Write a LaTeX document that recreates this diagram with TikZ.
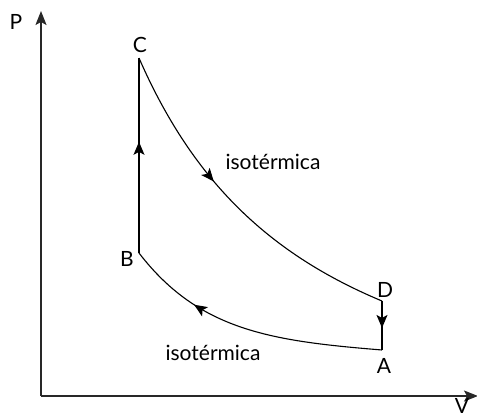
\documentclass[tikz,border=0pt]{standalone}
\usepackage{fontspec}
\setmainfont{Lato}
\usepackage{tikz}
\usetikzlibrary{arrows.meta,decorations.markings,positioning}
\definecolor{axisgrey}{RGB}{40,40,40}
\tikzset{
  axis/.style={line width=1.3pt,draw=axisgrey,-{Stealth[length=14pt,width=11pt,inset=3pt]}},
  stroke/.style={line width=1.1pt,draw=black},
  midarrow/.style={postaction={decorate},decoration={markings,
    mark=at position #1 with {\arrow{Stealth[length=13pt,width=11pt,inset=3pt]}}}},
  ptlabel/.style={font=\fontsize{21}{25}\selectfont,inner sep=0pt},
  curvelabel/.style={font=\fontsize{21}{25}\selectfont,inner sep=0pt}
}

\begin{document}
\begin{tikzpicture}[x=1pt,y=-1pt]
  \useasboundingbox (0,0) rectangle (477,418);
  % axes
  \coordinate (O) at (41,396);
  \coordinate (Ptop) at (41,11);
  \coordinate (Vend) at (478,396);
  \draw[axis] (O) -- (Ptop);
  \draw[axis] (O) -- (Vend);
  \node[ptlabel] (P-lbl) at (16,22) {P};
  \node[ptlabel] (V-lbl) at (462,406) {V};
  % cycle corners
  \coordinate (A) at (382,350);
  \coordinate (B) at (139,253);
  \coordinate (C) at (139,58);
  \coordinate (D) at (382,301);
  \node[ptlabel] (A-lbl) at (384,366) {A};
  \node[ptlabel] (B-lbl) at (127,259) {B};
  \node[ptlabel] (C-lbl) at (140,45) {C};
  \node[ptlabel] (D-lbl) at (385,290) {D};
  % A -> B -> C -> D -> A
  \draw[stroke,midarrow=0.72] (A) .. controls +(-110,-9) and +(60,78) .. (B);
  \draw[stroke,midarrow=0.57] (B) -- (C);
  \draw[stroke,midarrow=0.41] (C) .. controls +(55,126) and +(-110,-46) .. (D);
  \draw[stroke,midarrow=0.55] (D) -- (A);
  \node[curvelabel] (iso-top) at (273,162) {isotérmica};
  \node[curvelabel] (iso-bot) at (213,353) {isotérmica};
\end{tikzpicture}
\end{document}
